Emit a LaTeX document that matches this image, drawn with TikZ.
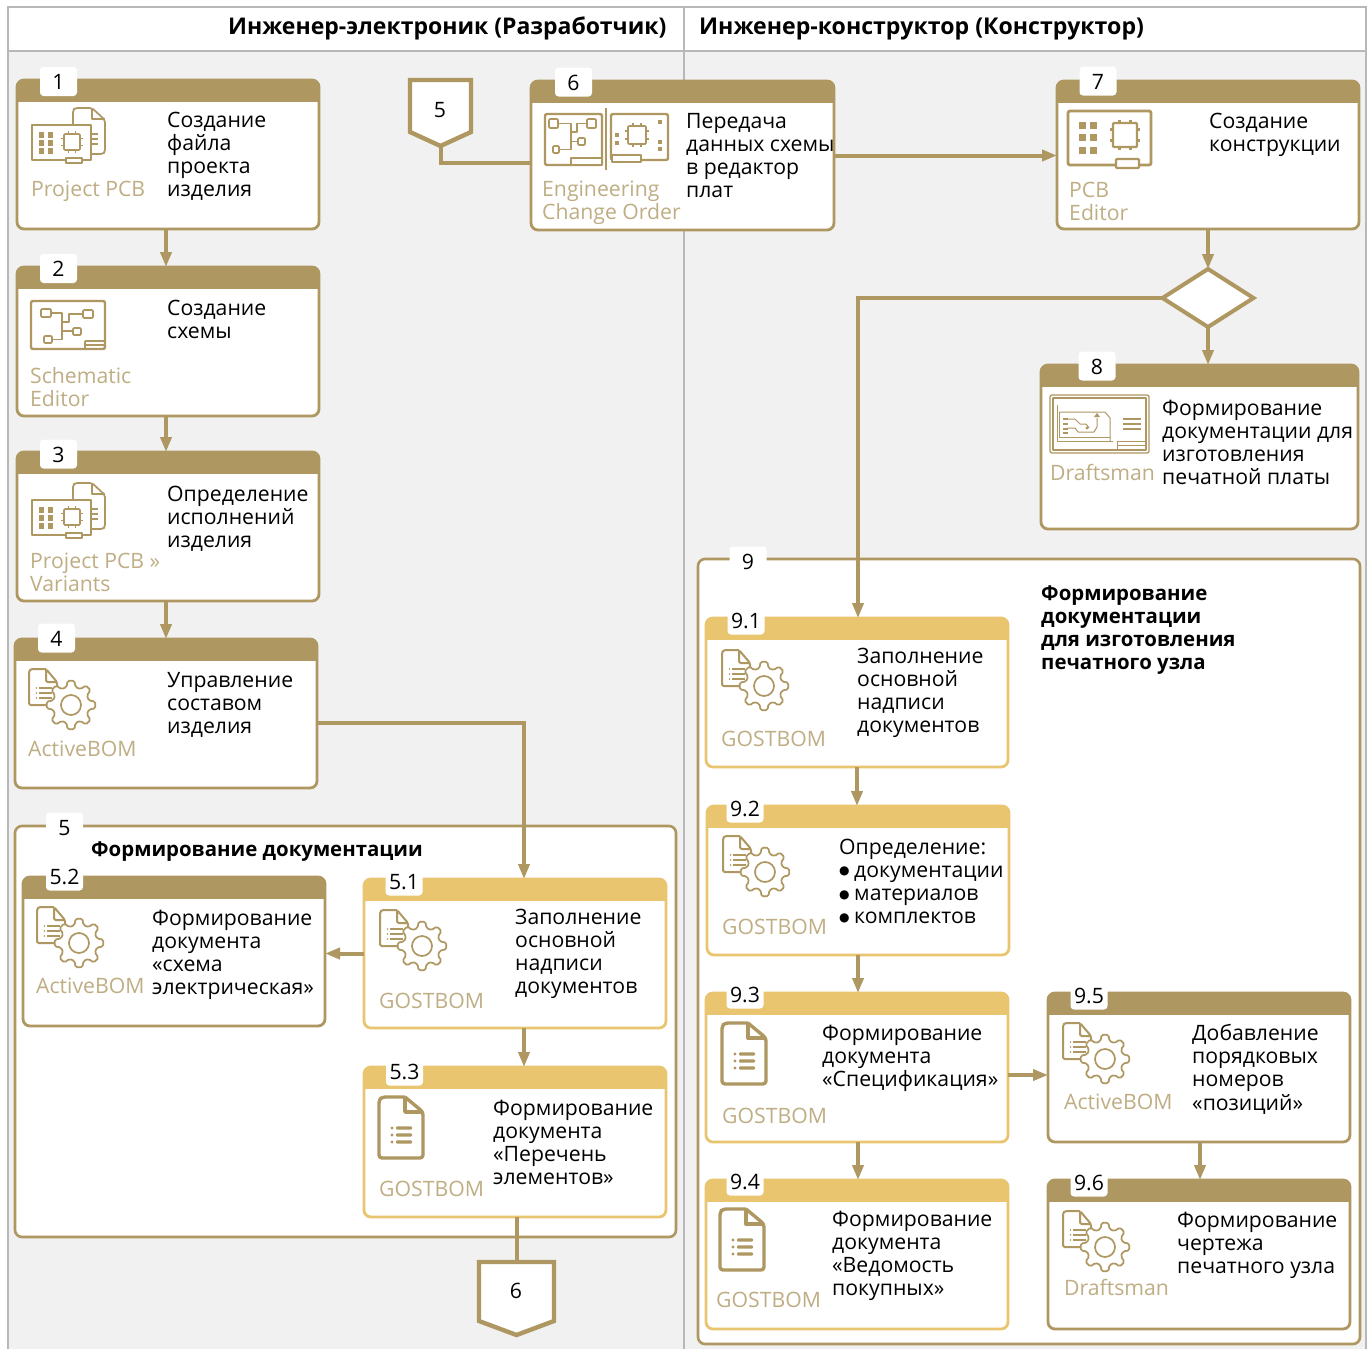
\documentclass[tikz,border=0pt]{standalone}
\usepackage{fontspec}
\setmainfont{Open Sans}
\newfontfamily\djv{DejaVu Sans}
\usetikzlibrary{arrows.meta,shapes.geometric,calc}
\definecolor{gold}{HTML}{AE9761}
\definecolor{pale}{HTML}{BFAE84}
\definecolor{sand}{HTML}{E9C570}
\definecolor{wall}{HTML}{F1F1F1}
\definecolor{rulegray}{HTML}{B8B8B8}
\tikzset{
 x=1pt,y=-1pt,
 boxbase/.style={draw=#1,fill=white,line width=2.8pt,rounded corners=7pt,inner sep=0pt,outer sep=0pt,
   path picture={\fill[sharp corners,#1] (path picture bounding box.north west) rectangle ([yshift=-22pt]path picture bounding box.north east);}},
 contbox/.style={draw=gold,fill=white,line width=2.6pt,rounded corners=7pt,inner sep=0pt,outer sep=0pt},
 numtagst/.style={fill=white,rounded corners=3.5pt,minimum width=37pt,minimum height=29pt,inner sep=0pt,text height=16pt,text depth=0pt,font=\fontsize{21.2}{23}\selectfont},
 tx/.style={anchor=north west,inner sep=0pt,align=left,font=\fontsize{21.2}{23.2}\selectfont},
 btx/.style={anchor=north west,inner sep=0pt,align=left,font=\fontsize{20.4}{23.2}\selectfont\bfseries},
 flow/.style={draw=gold,line width=4pt,-{Triangle[length=15pt,width=11pt]}},
 link/.style={draw=gold,line width=4pt},
 ic/.style={draw=gold,line width=1.7pt,line join=round},
 icb/.style={draw=gold,line width=2.4pt,rounded corners=2pt,line join=round},
 offnode/.style={minimum width=#1,inner sep=0pt,outer sep=0pt,font=\fontsize{21.2}{23}\selectfont},
}
\newcommand{\stepbox}[6]{%
 \pgfmathsetmacro\bcx{(#2+#4)/2}\pgfmathsetmacro\bcy{(#3+#5)/2}%
 \pgfmathsetmacro\bw{#4-#2}\pgfmathsetmacro\bh{#5-#3}%
 \node[boxbase=#6,minimum width=\bw pt,minimum height=\bh pt] (#1) at (\bcx,\bcy) {};}
\newcommand{\contain}[5]{%
 \pgfmathsetmacro\bcx{(#2+#4)/2}\pgfmathsetmacro\bcy{(#3+#5)/2}%
 \pgfmathsetmacro\bw{#4-#2}\pgfmathsetmacro\bh{#5-#3}%
 \node[contbox,minimum width=\bw pt,minimum height=\bh pt] (#1) at (\bcx,\bcy) {};}
\newcommand{\numtag}[4]{\node[numtagst] (#1) at (#2,#3) {#4};}
\newcommand{\txt}[4]{\node[tx] (#1) at (#2,#3-16) {\rule{0pt}{16pt}#4};}
\newcommand{\btxt}[4]{\node[btx] (#1) at (#2,#3-16) {\rule{0pt}{16pt}#4};}
\newcommand{\lbl}[4]{\node[tx,text=pale] (#1) at (#2,#3-16) {\rule{0pt}{16pt}#4};}
\newcommand{\bul}{\makebox[15pt][l]{\raisebox{2.5pt}{\djv\fontsize{12}{12}\selectfont ●}}}
% icons: centre x, centre y, half size, stroke
\newcommand{\chipic}[4]{%
 \draw[ic,line width=#4,rounded corners=1pt] (#1-#3,#2-#3) rectangle (#1+#3,#2+#3);
 \foreach \s in {-0.45,0.45}{
  \draw[ic,line width=#4] (#1+\s*#3,#2-#3) -- (#1+\s*#3,#2-#3-3);
  \draw[ic,line width=#4] (#1+\s*#3,#2+#3) -- (#1+\s*#3,#2+#3+3);
  \draw[ic,line width=#4] (#1-#3,#2+\s*#3) -- (#1-#3-3,#2+\s*#3);
  \draw[ic,line width=#4] (#1+#3,#2+\s*#3) -- (#1+#3+3,#2+\s*#3);}
}
\newcommand{\pad}[3]{\fill[gold] (#1-#3,#2-#3) rectangle (#1+#3,#2+#3);}
\newcommand{\docgear}[2]{\begin{scope}[shift={(#1,#2)}]
 \draw[ic,line width=2pt,rounded corners=1.5pt] (17,0) -- (2,0) -- (0,2) -- (0,36) -- (28,36) -- (28,13) -- (17,0) -- (17,13) -- (28,13);
 \foreach \yy in {19,24,29}{\draw[ic,line width=1.3pt] (10,\yy) -- (23,\yy);\fill[gold] (7.5,\yy) circle (.9);}
 \begin{scope}[shift={(42,36)}]
 \draw[ic,fill=white,rounded corners=1.6pt] (-14:18.5) -- (-8:24.5) -- (8:24.5) -- (14:18.5)
   \foreach \a in {45,90,...,315}{ -- (\a-14:18.5) -- (\a-8:24.5) -- (\a+8:24.5) -- (\a+14:18.5)} -- cycle;
 \draw[ic] (0,0) circle (10);
 \end{scope}
\end{scope}}
\newcommand{\docic}[2]{\begin{scope}[shift={(#1,#2)}]
 \draw[draw=gold,line width=3.4pt,line join=round,rounded corners=3pt] (26,0) -- (3,0) -- (0,3) -- (0,61) -- (44,61) -- (44,15) -- (26,0);
 \draw[draw=gold,line width=3.4pt,line join=round] (26,0) -- (26,15) -- (44,15);
 \foreach \yy in {31,38,45}{\fill[gold,rounded corners=1pt] (17,\yy-1.6) rectangle (33,\yy+1.6);\fill[gold] (13,\yy) circle (1.6);}
\end{scope}}
\newcommand{\pcbdoc}[2]{\begin{scope}[shift={(#1,#2)}]
 \draw[ic,rounded corners=2pt] (41,17) -- (41,2) -- (43,0) -- (60,0) -- (73,12) -- (73,44) -- (71,46) -- (59,46);
 \draw[ic] (60,0) -- (60,11) -- (73,11);
 \draw[ic,fill=white] (0,17) rectangle (59,52);
 \draw[ic,fill=white] (34,50) rectangle (50,55);
 \foreach \xx in {9.5,18.5}{\foreach \yy in {27,35,43}{\pad{\xx}{\yy}{2.7}}}
 \chipic{40}{34}{8}{1.7pt}
 \foreach \yy in {26,31,36}{\draw[ic,line width=1.2pt] (60,\yy) -- (66,\yy);}
\end{scope}}
\newcommand{\schic}[2]{\begin{scope}[shift={(#1,#2)}]
 \draw[icb] (0,0) rectangle (74,48);
 \draw[ic,rounded corners=1pt] (10,8) rectangle (20,16);
 \draw[ic,rounded corners=1pt] (52,9) rectangle (62,17);
 \draw[ic,rounded corners=1pt] (42,27) rectangle (50,34);
 \draw[ic,rounded corners=1pt] (13,35) rectangle (21,42);
 \draw[ic] (20,12) -- (31,12) -- (31,38.5) -- (21,38.5);
 \draw[ic] (31,30) -- (42,30);
 \draw[ic] (31,21) -- (38,21) -- (38,13) -- (52,13);
 \draw[ic] (54,40) -- (74,40);\draw[ic] (54,44) -- (74,44);\draw[ic] (54,40) -- (54,48);
\end{scope}}
\newcommand{\ecoic}[2]{\begin{scope}[shift={(#1,#2)}]
 \draw[icb] (0,0) rectangle (57,51);
 \draw[ic,rounded corners=1pt] (4,5) rectangle (13,14);
 \draw[ic,rounded corners=1pt] (42,5) rectangle (51,14);
 \draw[ic,rounded corners=1pt] (33,24) rectangle (40,31);
 \draw[ic,rounded corners=1pt] (8,32) rectangle (14,39);
 \draw[ic] (13,9.5) -- (26,9.5) -- (26,35.5) -- (14,35.5);
 \draw[ic] (26,27.5) -- (33,27.5);
 \draw[ic] (26,18) -- (32,18) -- (32,9.5) -- (42,9.5);
 \draw[ic,fill=white] (26,44) rectangle (57,51);
 \draw[ic] (61,-6) -- (61,56);
 \draw[icb] (66,0) rectangle (123,46);
 \draw[ic,fill=white] (67,41) rectangle (96,48);
 \chipic{92}{21}{9}{1.7pt}
 \pad{72}{21}{2.3}\pad{72}{29}{2.3}\pad{115}{8}{2.3}\pad{115}{28}{2.3}\pad{115}{35}{2.3}
\end{scope}}
\newcommand{\pcbbig}[2]{\begin{scope}[shift={(#1,#2)}]
 \draw[icb,line width=2.8pt] (0,0) rectangle (83,54);
 \draw[draw=gold,line width=2.4pt,fill=white,rounded corners=1pt] (48,48) rectangle (71,57);
 \foreach \xx in {14,25.5}{\foreach \yy in {14,26.5,39.5}{\pad{\xx}{\yy}{3.5}}}
 \chipic{57}{24}{12}{2.4pt}
\end{scope}}
\newcommand{\draftic}[2]{\begin{scope}[shift={(#1,#2)}]
 \draw[ic,line width=1.3pt,rounded corners=2pt] (0,0) rectangle (99,58);
 \draw[ic,line width=1.3pt] (3,3) rectangle (96,55);
 \draw[ic,line width=1pt] (7,10) -- (7,46) -- (63,46);
 \draw[ic,line width=1pt] (9,17) -- (55,17) -- (60,23) -- (60,46);
 \draw[ic,line width=1pt] (9,17) -- (9,42) -- (60,42);
 \draw[ic,line width=1pt] (17,24) -- (25,24) -- (30,29) -- (36,29) -- (39,33);
 \draw[ic,line width=1pt] (17,33) -- (25,33) -- (28,37) -- (44,37) -- (47,32) -- (47,23);
 \foreach \yy in {24,29,34,38}{\fill[gold] (13,\yy-1) rectangle (18,\yy+1);}
 \fill[gold] (44,22) -- (50,22) -- (47,18) -- cycle;
 \fill[gold] (37,33) circle (1.6);
 \foreach \yy in {24,29,34}{\draw[draw=gold,line width=1.8pt] (73,\yy) -- (91,\yy);}
 \draw[ic,line width=1pt] (67,56) -- (67,46) -- (97,46);
 \draw[ic,line width=1pt] (67,50) -- (96,50);
\end{scope}}
\begin{document}
\begin{tikzpicture}
\useasboundingbox (0,0) rectangle (1370,1349);
% lanes
\fill[wall] (8,7) rectangle (1366,1349);
\fill[white] (8,7) rectangle (1366,51);
\draw[rulegray,line width=2pt] (8,1349) -- (8,7) -- (1366,7) -- (1366,1349);
\draw[rulegray,line width=2pt] (8,51) -- (1366,51);
\draw[rulegray,line width=2.5pt] (684,7) -- (684,1349);
\node[anchor=base west,inner sep=0pt,font=\fontsize{23}{26}\selectfont\bfseries] (laneL) at (228,34) {Инженер-электроник (Разработчик)};
\node[anchor=base west,inner sep=0pt,font=\fontsize{23.1}{26}\selectfont\bfseries] (laneR) at (699,34) {Инженер-конструктор (Конструктор)};
% containers
\contain{c5}{15}{826}{676}{1237}
\contain{c9}{698}{559}{1360}{1344}
% boxes
\stepbox{b1}{17}{80}{319}{229}{gold}
\stepbox{b2}{17}{267}{319}{416}{gold}
\stepbox{b3}{17}{452}{319}{601}{gold}
\stepbox{b4}{15}{639}{317}{788}{gold}
\stepbox{b6}{531}{81}{834}{230}{gold}
\stepbox{b7}{1057}{81}{1359}{229}{gold}
\stepbox{b8}{1041}{365}{1358}{529}{gold}
\stepbox{b52}{23}{877}{325}{1026}{gold}
\stepbox{b51}{364}{879}{666}{1028}{sand}
\stepbox{b53}{364}{1067}{666}{1217}{sand}
\stepbox{b91}{706}{618}{1008}{767}{sand}
\stepbox{b92}{707}{806}{1009}{955}{sand}
\stepbox{b93}{706}{993}{1008}{1142}{sand}
\stepbox{b94}{706}{1180}{1008}{1329}{sand}
\stepbox{b95}{1048}{993}{1350}{1142}{gold}
\stepbox{b96}{1048}{1180}{1350}{1329}{gold}
% off-page
\node[offnode=61pt,minimum height=67pt] (off5) at (440.5,113) {};
\node[offnode=75pt,minimum height=73pt] (off6) at (516.5,1298.5) {};
\node[diamond,draw=gold,fill=white,line width=4pt,minimum width=91pt,minimum height=58pt,inner sep=0pt,outer sep=0pt,aspect=1.55] (dia) at (1208,298) {};
% connectors
\draw[flow] ([xshift=-2pt]b1.south) -- ([xshift=-2pt]b2.north);
\draw[flow] ([xshift=-2pt]b2.south) -- ([xshift=-2pt]b3.north);
\draw[flow] ([xshift=-2pt]b3.south) -- ([xshift=0pt]b4.north);
\draw[flow] ([yshift=-9.5pt]b4.east) -| ([xshift=9pt]b51.north);
\draw[flow] (b51.west) -- (b51.west -| b52.east);
\draw[flow] ([xshift=9pt]b51.south) -- ([xshift=9pt]b53.north);
\draw[link] (off6.north |- b53.south) -- (off6.north);
\draw[link,line join=miter] (off5.south) |- ([yshift=-7.5pt]b6.west);
\draw[flow] (b6.east) -- (b6.east -| b7.west);
\draw[flow] (dia.north |- b7.south) -- (dia.north);
\draw[flow] (dia.south) -- (dia.south |- b8.north);
\draw[flow] (dia.west) -| ([xshift=1pt]b91.north);
\draw[flow] (b91.south) -- (b91.south |- b92.north);
\draw[flow] (b92.south) -- (b92.south |- b93.north);
\draw[flow] ([xshift=1pt]b93.south) -- ([xshift=1pt]b94.north);
\draw[flow] ([yshift=-7.5pt]b93.east) -- ([yshift=-7.5pt]b93.east -| b95.west);
\draw[flow] ([xshift=1pt]b95.south) -- ([xshift=1pt]b96.north);
% off-page shapes and their numbers
\filldraw[fill=white,draw=gold,line width=4.4pt,miter limit=10] (410,80) -- (471,80) -- (471,132) -- (440.5,146) -- (410,132) -- cycle;
\filldraw[fill=white,draw=gold,line width=4.4pt,miter limit=10] (479,1262) -- (554,1262) -- (554,1321) -- (516.5,1335) -- (479,1321) -- cycle;
\node[inner sep=0pt,text height=16pt,text depth=0pt,font=\fontsize{21.2}{23}\selectfont] (num5) at (440,109) {5};
\node[inner sep=0pt,text height=16pt,text depth=0pt,font=\fontsize{21.2}{23}\selectfont] (num6) at (516,1290) {6};
% number tags
\numtag{t1}{58.5}{81.5}{1}
\numtag{t2}{58.5}{268.5}{2}
\numtag{t3}{58.5}{454}{3}
\numtag{t4}{56.5}{638}{4}
\numtag{t6}{573.5}{82}{6}
\numtag{t7}{1098}{81}{7}
\numtag{t8}{1097}{366}{8}
\numtag{t5}{64.5}{827}{5}
\numtag{t52}{64.5}{876}{5.2}
\numtag{t51}{404}{881}{5.1}
\numtag{t53}{404.5}{1071}{5.3}
\numtag{t9}{748}{561}{9}
\numtag{t91}{746}{620}{9.1}
\numtag{t92}{745}{808}{9.2}
\numtag{t93}{745}{994}{9.3}
\numtag{t94}{745}{1181}{9.4}
\numtag{t95}{1089}{995}{9.5}
\numtag{t96}{1089}{1182}{9.6}
% icons
\pcbdoc{32}{108}
\schic{31}{301}
\pcbdoc{32}{483}
\docgear{29}{669}
\docgear{37}{907}
\docgear{380}{910}
\docic{379}{1097}
\ecoic{545}{114}
\pcbbig{1068}{111}
\draftic{1050}{395}
\docgear{722}{650}
\docgear{723}{836}
\docic{722}{1023}
\docic{720}{1209}
\docgear{1063}{1023}
\docgear{1063}{1211}
% texts
\txt{x1}{167}{127}{Создание\\файла\\проекта\\изделия}
\lbl{l1}{31}{196}{Project PCB}
\txt{x2}{167}{315}{Создание\\схемы}
\lbl{l2}{30}{383}{Schematic\\Editor}
\txt{x3}{167}{501}{Определение\\исполнений\\изделия}
\lbl{l3}{30}{568}{Project PCB »\\Variants}
\txt{x4}{167}{687}{Управление\\составом\\изделия}
\lbl{l4}{28}{756}{ActiveBOM}
\btxt{x5}{91}{856}{Формирование документации}
\txt{x52}{152}{925}{Формирование\\документа\\«схема\\электрическая»}
\lbl{l52}{36}{993}{ActiveBOM}
\txt{x51}{515}{924}{Заполнение\\основной\\надписи\\документов}
\lbl{l51}{379}{1008}{GOSTBOM}
\txt{x53}{493}{1115}{Формирование\\документа\\«Перечень\\элементов»}
\lbl{l53}{379}{1196}{GOSTBOM}
\txt{x6}{686}{128}{Передача\\данных схемы\\в редактор\\плат}
\lbl{l6}{542}{196}{Engineering\\Change Order}
\txt{x7}{1209}{128}{Создание\\конструкции}
\lbl{l7}{1069}{197}{PCB\\Editor}
\txt{x8}{1162}{415}{Формирование\\документации для\\изготовления\\печатной платы}
\lbl{l8}{1050}{480}{Draftsman}
\btxt{x9}{1041}{600}{Формирование\\документации\\для изготовления\\печатного узла}
\txt{x91}{857}{663}{Заполнение\\основной\\надписи\\документов}
\lbl{l91}{721}{746}{GOSTBOM}
\txt{x92}{839}{854}{Определение:\\\bul документации\\\bul материалов\\\bul комплектов}
\lbl{l92}{722}{934}{GOSTBOM}
\txt{x93}{822}{1040}{Формирование\\документа\\«Спецификация»}
\lbl{l93}{722}{1123}{GOSTBOM}
\txt{x94}{832}{1226}{Формирование\\документа\\«Ведомость\\покупных»}
\lbl{l94}{716}{1307}{GOSTBOM}
\txt{x95}{1192}{1040}{Добавление\\порядковых\\номеров\\«позиций»}
\lbl{l95}{1064}{1109}{ActiveBOM}
\txt{x96}{1177}{1227}{Формирование\\чертежа\\печатного узла}
\lbl{l96}{1064}{1295}{Draftsman}
\end{tikzpicture}
\end{document}
